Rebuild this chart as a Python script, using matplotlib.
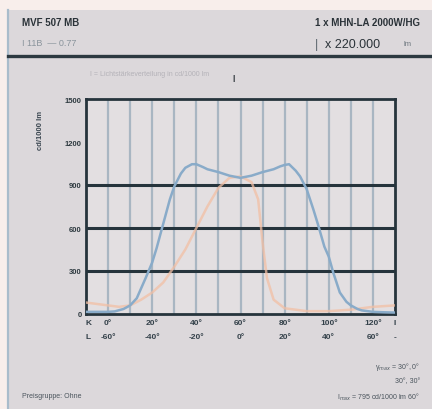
import matplotlib
matplotlib.use("Agg")
import matplotlib.pyplot as plt
from matplotlib.patches import Rectangle
from matplotlib.lines import Line2D

plt.rcParams['font.family'] = ['Liberation Sans', 'DejaVu Sans']

# Luminous intensity distribution (cd/1000 lm) over the beam angle
angles = [-70, -65, -60, -57, -53, -50, -47, -45, -43, -40, -38, -35, -32, -30,
          -27, -25, -22, -20, -17, -15, -10, -5, 0, 5, 10, 15, 18, 20, 22, 25,
          27, 30, 33, 35, 38, 40, 42, 45, 48, 50, 53, 55, 60, 65, 70]
plane_c0 = [15, 15, 15, 18, 35, 60, 110, 180, 250, 360, 460, 630, 800, 890,
            980, 1020, 1045, 1045, 1025, 1010, 990, 965, 950, 965, 990, 1010,
            1030, 1040, 1045, 1000, 960, 870, 730, 630, 470, 400, 290, 150, 85,
            60, 35, 25, 15, 12, 10]

angles_c90 = [-70, -65, -60, -55, -50, -45, -40, -35, -30, -25, -20, -15, -10, -5,
              0, 5, 8, 10, 12, 15, 20, 30, 40, 50, 60, 70]
plane_c90 = [80, 70, 60, 50, 60, 100, 150, 220, 330, 450, 600, 750, 880, 950,
             960, 920, 800, 500, 250, 100, 40, 20, 20, 30, 50, 60]

y_ticks = [0, 300, 600, 900, 1200, 1500]
x_ticks = [-60, -40, -20, 0, 20, 40, 60]
k_labels = ["0°", "20°", "40°", "60°", "80°", "100°", "120°"]
l_labels = ["-60°", "-40°", "-20°", "0°", "20°", "40°", "60°"]

W, H = 432, 410
fig = plt.figure(figsize=(W / 100, H / 100), dpi=100)
fig.patch.set_facecolor("#f8eeeb")


def fx(px):
    return px / W


def fy(py):
    return 1 - py / H


# panel background and frame
fig.patches.append(Rectangle((fx(8), 0), 1 - fx(8), fy(11), transform=fig.transFigure,
                             facecolor="#dcd8db", edgecolor="none", zorder=-10))
fig.lines.append(Line2D([fx(8), fx(8)], [0, fy(11)], transform=fig.transFigure,
                        color="#a9bccb", lw=1.6, zorder=-5))
fig.lines.append(Line2D([fx(8), 1], [fy(57), fy(57)], transform=fig.transFigure,
                        color="#2c3940", lw=2.4, zorder=-5))

ax = fig.add_axes([fx(86), fy(315), fx(395) - fx(86), fy(100) - fy(315)])
ax.set_facecolor("#e3dfe1")
ax.set_xlim(-70, 70)
ax.set_ylim(0, 1500)

for xv in range(-60, 70, 10):
    ax.axvline(xv, color="#a9b6c2", lw=1.6, zorder=1)
for yv in [300, 600, 900]:
    ax.axhline(yv, color="#26343c", lw=2.2, zorder=2)

ax.plot(angles_c90, plane_c90, color="#f2bfa4", lw=1.8, alpha=0.75, zorder=3,
        solid_joinstyle="round")
ax.plot(angles, plane_c0, color="#89abc9", lw=1.8, zorder=4, solid_joinstyle="round")

for s in ax.spines.values():
    s.set_color("#26343c")
    s.set_linewidth(2.0)

ax.set_yticks(y_ticks)
ax.set_yticklabels([str(v) for v in y_ticks], fontsize=5.5, fontweight="bold",
                   color="#2e3a40")
ax.tick_params(axis="y", length=0, pad=3)
ax.set_xticks(x_ticks)
ax.set_xticklabels([])
ax.tick_params(axis="x", length=0)

for xv, kl, ll in zip(x_ticks, k_labels, l_labels):
    ax.text(xv, -60, kl, ha="center", va="center", fontsize=6, fontweight="bold",
            color="#34414a", clip_on=False)
    ax.text(xv, -155, ll, ha="center", va="center", fontsize=6, fontweight="bold",
            color="#34414a", clip_on=False)
for xv, t1, t2 in [(-69, "K", "L"), (70, "I", "-")]:
    ax.text(xv, -60, t1, ha="center", va="center", fontsize=6, fontweight="bold",
            color="#34414a", clip_on=False)
    ax.text(xv, -155, t2, ha="center", va="center", fontsize=6, fontweight="bold",
            color="#34414a", clip_on=False)

fig.text(fx(40), fy(130), "cd/1000 lm", rotation=90, ha="center", va="center",
         fontsize=5.5, fontweight="bold", color="#3a4650")

# header
fig.text(fx(22), fy(23), "MVF 507 MB", fontsize=7, fontweight="bold", color="#2a3238",
         va="center")
fig.text(fx(22), fy(43), "I 11B  \u2014 0.77", fontsize=6.5, color="#8a949c", va="center")
fig.text(fx(420), fy(23), "1 x MHN-LA 2000W/HG", fontsize=7, fontweight="bold",
         color="#2a3238", va="center", ha="right")
fig.text(fx(315), fy(45), "|", fontsize=9, color="#5a646c", va="center")
fig.text(fx(325), fy(45), "x 220.000", fontsize=9, color="#2a3238", va="center")
fig.text(fx(404), fy(45), "lm", fontsize=5.5, color="#6a747c", va="center")

fig.text(fx(90), fy(75), "I = Lichtstärkeverteilung in cd/1000 lm", fontsize=5,
         color="#b4b2b8", va="center")
fig.text(fx(232), fy(79), "|", fontsize=6, color="#2a3238", va="center", fontweight="bold")

# footer
fig.text(fx(22), fy(397), "Preisgruppe: Ohne", fontsize=5, color="#4a545c", va="center")
fig.text(fx(420), fy(367), "γ$_{max}$ = 30°, 0°", fontsize=5, color="#4a545c",
         va="center", ha="right")
fig.text(fx(420), fy(382), "30°, 30°", fontsize=5, color="#4a545c", va="center", ha="right")
fig.text(fx(420), fy(397), "I$_{max}$ = 795 cd/1000 lm 60°", fontsize=5, color="#4a545c",
         va="center", ha="right")

fig.savefig("out.png", dpi=100, facecolor=fig.get_facecolor())
